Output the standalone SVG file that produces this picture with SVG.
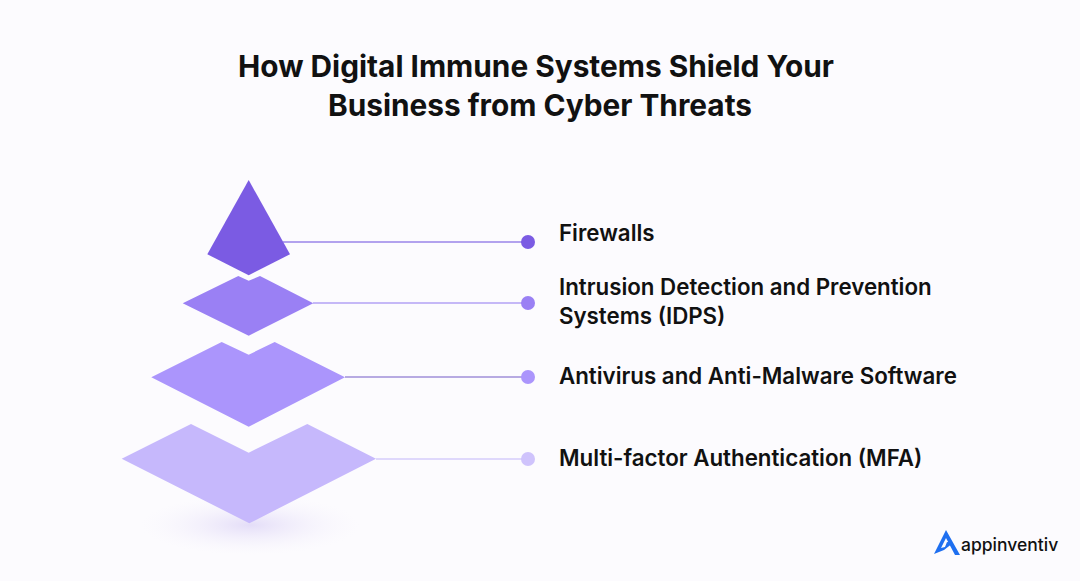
<svg xmlns="http://www.w3.org/2000/svg" width="1080" height="581" viewBox="0 0 1080 581">
<defs>
<style>
.t{font-family:"Inter","Liberation Sans",sans-serif;font-weight:700;fill:#111;}
.lb{font-family:"Inter","Liberation Sans",sans-serif;font-weight:600;font-size:22.3px;fill:#111;}
</style>
<radialGradient id="sh" cx="0.5" cy="0.5" r="0.5"><stop offset="0" stop-color="#d9d0f5" stop-opacity="0.7"/><stop offset="1" stop-color="#f5f2fc" stop-opacity="0"/></radialGradient>
</defs>
<rect width="1080" height="581" fill="#fcfbfe"/>
<text class="t" font-size="29.8" text-anchor="middle" x="536" y="77">How Digital Immune Systems Shield Your</text>
<text class="t" font-size="29.8" text-anchor="middle" x="540" y="116">Business from Cyber Threats</text>
<ellipse cx="250" cy="525" rx="110" ry="30" fill="url(#sh)"/>
<g id="connectors" stroke-width="1.5">
<line x1="283" y1="242" x2="528" y2="242" stroke="#9a85e8"/>
<line x1="313" y1="303" x2="528" y2="303" stroke="#b3a2f5"/>
<line x1="345" y1="377" x2="528" y2="377" stroke="#a08fd8"/>
<line x1="376" y1="459" x2="528" y2="459" stroke="#d6ccfb"/>
</g>
<g id="n1"><polygon points="248.7,180 290,254.3 248.7,275.3 207.3,254.3" fill="#7b5be3"/><circle cx="528" cy="242" r="7" fill="#7b5be3"/><text class="lb" x="559" y="241">Firewalls</text></g>
<g id="n2"><polygon points="238.3,276 248.7,280.7 260,276 313.3,303.3 248.7,335.7 182.7,303.3" fill="#9a80f4"/><circle cx="528" cy="303" r="7" fill="#9a80f4"/><text class="lb" x="559" y="295">Intrusion Detection and Prevention</text><text class="lb" x="559" y="324">Systems (IDPS)</text></g>
<g id="n3"><polygon points="221.7,342 248.7,354.7 274.7,342 345,377.3 248.7,426.7 151.3,377.3" fill="#ab95fc"/><circle cx="528" cy="377" r="7" fill="#ab95fc"/><text class="lb" x="559" y="384">Antivirus and Anti-Malware Software</text></g>
<g id="n4"><polygon points="191,424 248.7,452.7 307.3,424 376,458.7 249.3,523.3 121.7,458.7" fill="#c6b8fc"/><circle cx="528" cy="459" r="7" fill="#cfc3fc"/><text class="lb" x="559" y="466">Multi-factor Authentication (MFA)</text></g>
<g id="logo"><path d="M946,530 L934,554 L944,550 L953,543 L947,542 L945,547 L941,548 L946,538 L955,555 L960,555 Z" fill="#1e6ff0"/><text x="961" y="551" font-family="Inter,'Liberation Sans',sans-serif" font-size="17.5" font-weight="500" fill="#111">appinventiv</text></g>
</svg>
